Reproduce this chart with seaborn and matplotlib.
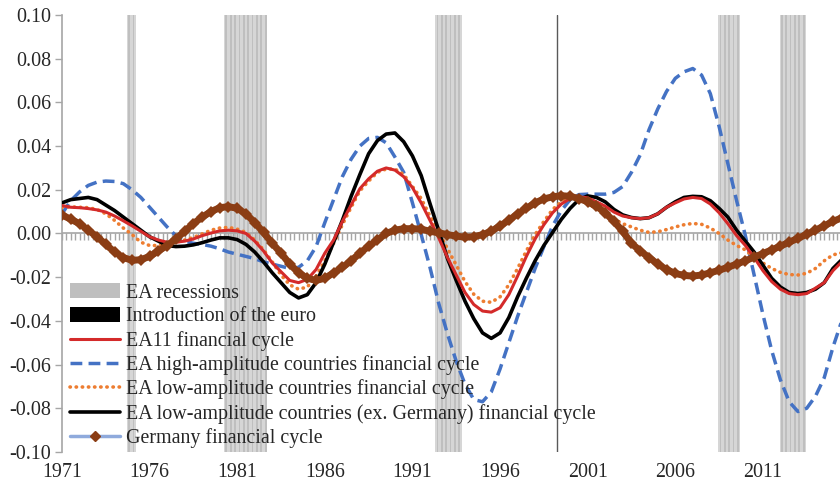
import numpy as np
import pandas as pd
import matplotlib
matplotlib.use("Agg")
import matplotlib.pyplot as plt
import seaborn as sns
from matplotlib.lines import Line2D
from matplotlib.patches import Patch

# Datos (semestral, 1971.0 - 2015.5)
anios = np.arange(1971.0, 2015.51, 0.5)

ea11 = [0.0128, 0.0120, 0.0118, 0.0114, 0.0108, 0.0098, 0.0080, 0.0058, 0.0035, 0.0010,
        -0.0015, -0.0030, -0.0040, -0.0040, -0.0035, -0.0025, -0.0010, 0.0002, 0.0012, 0.0015,
        0.0012, 0.0000, -0.0035, -0.0080, -0.0135, -0.0175, -0.0215, -0.0225, -0.0210, -0.0165,
        -0.0090, -0.0030, 0.0055, 0.0130, 0.0205, 0.0250, 0.0285, 0.0300, 0.0290, 0.0260,
        0.0210, 0.0140, 0.0060, -0.0020, -0.0110, -0.0190, -0.0270, -0.0325, -0.0355, -0.0360,
        -0.0340, -0.0280, -0.0195, -0.0105, -0.0025, 0.0040, 0.0095, 0.0135, 0.0160, 0.0168,
        0.0163, 0.0145, 0.0125, 0.0098, 0.0080, 0.0072, 0.0068, 0.0072, 0.0090, 0.0120,
        0.0140, 0.0158, 0.0165, 0.0160, 0.0135, 0.0095, 0.0045, -0.0010, -0.0055, -0.0110,
        -0.0170, -0.0220, -0.0255, -0.0275, -0.0280, -0.0275, -0.0250, -0.0225, -0.0170, -0.0130]

ea_alta = [0.0090, 0.0150, 0.0190, 0.0220, 0.0235, 0.0240, 0.0238, 0.0228, 0.0200, 0.0165,
           0.0120, 0.0075, 0.0030, -0.0010, -0.0035, -0.0045, -0.0050, -0.0058, -0.0070, -0.0085,
           -0.0095, -0.0105, -0.0115, -0.0130, -0.0140, -0.0150, -0.0160, -0.0155, -0.0125, -0.0060,
           0.0050, 0.0155, 0.0260, 0.0340, 0.0400, 0.0435, 0.0440, 0.0415, 0.0350, 0.0280,
           0.0140, -0.0005, -0.0155, -0.0320, -0.0460, -0.0585, -0.0690, -0.0760, -0.0770, -0.0725,
           -0.0620, -0.0500, -0.0380, -0.0270, -0.0160, -0.0060, 0.0035, 0.0105, 0.0155, 0.0178,
           0.0180, 0.0180, 0.0180, 0.0188, 0.0215, 0.0280, 0.0360, 0.0475, 0.0570, 0.0650,
           0.0710, 0.0740, 0.0755, 0.0725, 0.0640, 0.0490, 0.0320, 0.0150, -0.0010, -0.0190,
           -0.0370, -0.0535, -0.0670, -0.0770, -0.0815, -0.0800, -0.0745, -0.0660, -0.0520, -0.0400]

ea_baja = [0.0120, 0.0122, 0.0120, 0.0118, 0.0110, 0.0090, 0.0060, 0.0025, -0.0005, -0.0040,
           -0.0055, -0.0055, -0.0048, -0.0040, -0.0030, -0.0018, -0.0002, 0.0015, 0.0025, 0.0028,
           0.0020, 0.0005, -0.0030, -0.0075, -0.0130, -0.0190, -0.0235, -0.0255, -0.0245, -0.0195,
           -0.0125, -0.0045, 0.0040, 0.0120, 0.0195, 0.0240, 0.0280, 0.0295, 0.0295, 0.0270,
           0.0215, 0.0160, 0.0080, 0.0008, -0.0070, -0.0145, -0.0220, -0.0278, -0.0310, -0.0315,
           -0.0290, -0.0235, -0.0160, -0.0080, -0.0005, 0.0055, 0.0110, 0.0145, 0.0163, 0.0155,
           0.0135, 0.0115, 0.0090, 0.0065, 0.0045, 0.0030, 0.0015, 0.0005, 0.0008, 0.0018,
           0.0030, 0.0040, 0.0046, 0.0042, 0.0025, 0.0000, -0.0030, -0.0055, -0.0075, -0.0110,
           -0.0135, -0.0160, -0.0178, -0.0188, -0.0190, -0.0182, -0.0160, -0.0125, -0.0098, -0.0088]

ea_baja_sin_de = [0.0140, 0.0155, 0.0160, 0.0165, 0.0155, 0.0130, 0.0105, 0.0075, 0.0045, 0.0015,
                  -0.0015, -0.0035, -0.0055, -0.0060, -0.0058, -0.0052, -0.0042, -0.0030, -0.0020, -0.0020,
                  -0.0028, -0.0050, -0.0085, -0.0130, -0.0180, -0.0225, -0.0270, -0.0295, -0.0280, -0.0225,
                  -0.0140, -0.0040, 0.0060, 0.0170, 0.0270, 0.0365, 0.0425, 0.0455, 0.0460, 0.0420,
                  0.0355, 0.0265, 0.0137, 0.0013, -0.0115, -0.0215, -0.0310, -0.0390, -0.0455, -0.0480,
                  -0.0455, -0.0385, -0.0290, -0.0205, -0.0125, -0.0055, 0.0005, 0.0065, 0.0115, 0.0155,
                  0.0172, 0.0165, 0.0145, 0.0110, 0.0085, 0.0073, 0.0068, 0.0072, 0.0090, 0.0120,
                  0.0145, 0.0165, 0.0170, 0.0168, 0.0150, 0.0115, 0.0075, 0.0015, -0.0035, -0.0085,
                  -0.0145, -0.0205, -0.0245, -0.0270, -0.0275, -0.0270, -0.0255, -0.0225, -0.0160, -0.0120]

alemania = [0.0085, 0.0065, 0.0045, 0.0015, -0.0015, -0.0050, -0.0085, -0.0110, -0.0123, -0.0120,
            -0.0105, -0.0080, -0.0055, -0.0025, 0.0010, 0.0045, 0.0075, 0.0100, 0.0118, 0.0123,
            0.0115, 0.0090, 0.0050, 0.0005, -0.0045, -0.0090, -0.0140, -0.0180, -0.0205, -0.0215,
            -0.0205, -0.0180, -0.0155, -0.0125, -0.0090, -0.0058, -0.0030, 0.0000, 0.0015, 0.0022,
            0.0022, 0.0020, 0.0010, 0.0003, -0.0005, -0.0012, -0.0017, -0.0015, -0.0005, 0.0010,
            0.0035, 0.0060, 0.0090, 0.0115, 0.0140, 0.0158, 0.0168, 0.0173, 0.0170, 0.0160,
            0.0145, 0.0125, 0.0095, 0.0055, 0.0010, -0.0045, -0.0080, -0.0110, -0.0140, -0.0165,
            -0.0183, -0.0192, -0.0195, -0.0190, -0.0180, -0.0168, -0.0155, -0.0140, -0.0125, -0.0108,
            -0.0092, -0.0075, -0.0058, -0.0040, -0.0022, -0.0004, 0.0015, 0.0035, 0.0055, 0.0072]

# Recesiones EA (inicio, fin) y entrada del euro
recesiones = [(1974.7, 1975.2), (1980.25, 1982.7), (1992.3, 1993.8), (2008.45, 2009.7), (2011.95, 2013.45)]
euro = 1999.25

etiquetas_x = [1971, 1976, 1981, 1986, 1991, 1996, 2001, 2006, 2011]
etiquetas_y = [-0.10, -0.08, -0.06, -0.04, -0.02, 0.00, 0.02, 0.04, 0.06, 0.08, 0.10]

df = pd.DataFrame({"anio": anios, "ea11": ea11, "alta": ea_alta, "baja": ea_baja,
                   "baja_sin_de": ea_baja_sin_de, "alemania": alemania})

sns.set_style("white")
plt.rcParams["font.family"] = ["Liberation Serif", "DejaVu Serif"]
fs = 14.4

fig = plt.figure(figsize=(8.4, 4.88), dpi=100)
ax = fig.add_axes([0.0738, 0.0738, 0.9262, 0.8955])

# Barras de recesiones (columnas trimestrales)
for ini, fin in recesiones:
    ax.axvspan(ini, fin, color="#d6d6d6", lw=0, zorder=0)
    trimestres = np.arange(ini + 0.125, fin, 0.25)
    ax.bar(trimestres, 0.2, bottom=-0.1, width=0.1, color="#bfbfbf", lw=0, zorder=0.5)

ax.axvline(euro, color="#595959", lw=1, zorder=1)

# Eje en cero con marcas trimestrales
ax.axhline(0, color="#a6a6a6", lw=1.2, zorder=1)
ax.vlines(np.arange(1971, 2015.5, 0.25), -0.0028, 0, color="#a6a6a6", lw=1, zorder=1)

sns.lineplot(data=df, x="anio", y="ea11", ax=ax, color="#d42a2a", lw=2.2, zorder=4)
sns.lineplot(data=df, x="anio", y="alta", ax=ax, color="#4472c4", lw=2.5, zorder=3,
             linestyle=(0, (3.4, 1.8)))
sns.lineplot(data=df, x="anio", y="baja", ax=ax, color="#ed7d31", lw=2.6, zorder=3,
             linestyle=(0, (0.1, 1.6)), dash_capstyle="round")
sns.lineplot(data=df, x="anio", y="baja_sin_de", ax=ax, color="#000000", lw=2.6, zorder=3)
sns.lineplot(data=df, x="anio", y="alemania", ax=ax, color="#8b3d14", lw=5, zorder=5,
             marker="D", markersize=6, markeredgewidth=0)

ax.set_xlim(1971, 2015.4)
ax.set_ylim(-0.1, 0.1)
ax.set_yticks(etiquetas_y)
ax.set_yticklabels([f"{v:.2f}" for v in etiquetas_y])
ax.set_xticks(etiquetas_x)
ax.set_xticklabels([str(a) for a in etiquetas_x])
ax.tick_params(axis="x", length=0, pad=8, labelsize=fs, colors="#262626")
ax.tick_params(axis="y", length=5, width=1, color="#a6a6a6", pad=3, labelsize=fs,
               labelcolor="#262626", left=True)
ax.set_xlabel("")
ax.set_ylabel("")
for s in ["top", "right", "bottom"]:
    ax.spines[s].set_visible(False)
ax.spines["left"].set_color("#a6a6a6")
ax.spines["left"].set_linewidth(1.2)

handles = [
    Patch(facecolor="#bfbfbf", edgecolor="none"),
    Patch(facecolor="#000000", edgecolor="none"),
    Line2D([], [], color="#d42a2a", lw=2.2),
    Line2D([], [], color="#4472c4", lw=2.5, linestyle=(0, (3.4, 1.8))),
    Line2D([], [], color="#ed7d31", lw=2.6, linestyle=(0, (0.1, 1.6)), dash_capstyle="round"),
    Line2D([], [], color="#000000", lw=2.6),
    Line2D([], [], color="#8faadc", lw=2.5, marker="D", markersize=5, markerfacecolor="#8b3d14",
           markeredgecolor="#8b3d14"),
]
labels = ["EA recessions", "Introduction of the euro", "EA11 financial cycle",
          "EA high-amplitude countries financial cycle", "EA low-amplitude countries financial cycle",
          "EA low-amplitude countries (ex. Germany) financial cycle", "Germany financial cycle"]
ax.legend(handles, labels, loc="lower left", bbox_to_anchor=(0.005, 0.0), frameon=False,
          handlelength=2.5, handleheight=0.75, handletextpad=0.3, labelspacing=0.22,
          fontsize=fs, borderpad=0.2, borderaxespad=0.0)

fig.savefig("out.png", dpi=100)
